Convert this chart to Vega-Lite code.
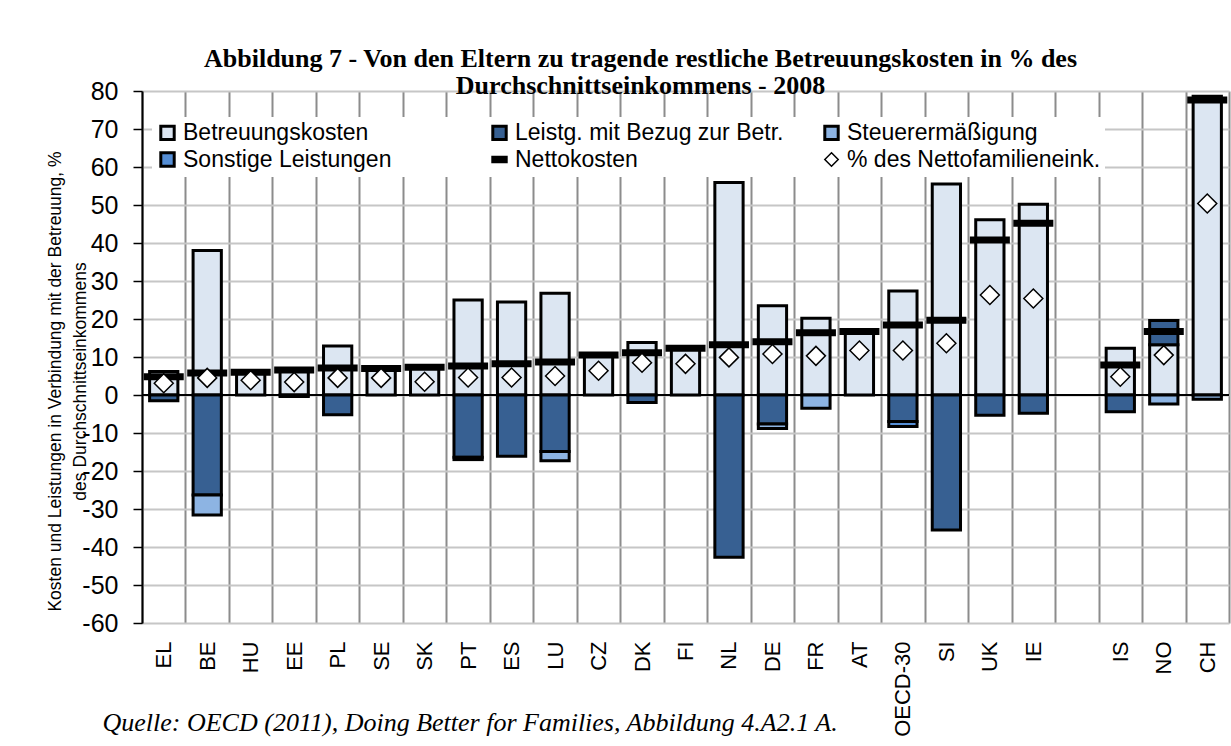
{
  "$schema": "https://vega.github.io/schema/vega-lite/v6.json",
  "width": 1087,
  "height": 532,
  "autosize": {"type": "none"},
  "padding": {"left": 142, "top": 91, "right": 2, "bottom": 123},
  "background": "white",
  "title": {
    "text": ["Abbildung 7 - Von den Eltern zu tragende restliche Betreuungskosten in % des", "Durchschnittseinkommens - 2008"],
    "font": "Liberation Serif", "fontSize": 26, "fontWeight": "bold", "color": "black",
    "anchor": "middle", "dx": -45, "offset": -20, "lineHeight": 27
  },
  "data": {"values": [
    {"country": "EL", "series": "Betreuungskosten", "value": 6.2},
    {"country": "EL", "series": "Leistg. mit Bezug zur Betr.", "value": -1.5},
    {"country": "EL", "series": "Nettokosten", "value": 4.8},
    {"country": "EL", "series": "% des Nettofamilieneink.", "value": 3.1},
    {"country": "BE", "series": "Betreuungskosten", "value": 38.0},
    {"country": "BE", "series": "Leistg. mit Bezug zur Betr.", "value": -26.3},
    {"country": "BE", "series": "Steuerermäßigung", "value": -5.3},
    {"country": "BE", "series": "Nettokosten", "value": 5.8},
    {"country": "BE", "series": "% des Nettofamilieneink.", "value": 4.5},
    {"country": "HU", "series": "Betreuungskosten", "value": 5.9},
    {"country": "HU", "series": "Nettokosten", "value": 6.0},
    {"country": "HU", "series": "% des Nettofamilieneink.", "value": 3.9},
    {"country": "EE", "series": "Betreuungskosten", "value": 6.8},
    {"country": "EE", "series": "Leistg. mit Bezug zur Betr.", "value": -0.4},
    {"country": "EE", "series": "Nettokosten", "value": 6.6},
    {"country": "EE", "series": "% des Nettofamilieneink.", "value": 3.4},
    {"country": "PL", "series": "Betreuungskosten", "value": 12.9},
    {"country": "PL", "series": "Leistg. mit Bezug zur Betr.", "value": -5.2},
    {"country": "PL", "series": "Nettokosten", "value": 7.1},
    {"country": "PL", "series": "% des Nettofamilieneink.", "value": 4.5},
    {"country": "SE", "series": "Betreuungskosten", "value": 7.0},
    {"country": "SE", "series": "Nettokosten", "value": 7.0},
    {"country": "SE", "series": "% des Nettofamilieneink.", "value": 4.5},
    {"country": "SK", "series": "Betreuungskosten", "value": 7.2},
    {"country": "SK", "series": "Nettokosten", "value": 7.3},
    {"country": "SK", "series": "% des Nettofamilieneink.", "value": 3.5},
    {"country": "PT", "series": "Betreuungskosten", "value": 25.0},
    {"country": "PT", "series": "Leistg. mit Bezug zur Betr.", "value": -16.4},
    {"country": "PT", "series": "Sonstige Leistungen", "value": -0.6},
    {"country": "PT", "series": "Nettokosten", "value": 7.6},
    {"country": "PT", "series": "% des Nettofamilieneink.", "value": 4.6},
    {"country": "ES", "series": "Betreuungskosten", "value": 24.5},
    {"country": "ES", "series": "Leistg. mit Bezug zur Betr.", "value": -16.1},
    {"country": "ES", "series": "Nettokosten", "value": 8.2},
    {"country": "ES", "series": "% des Nettofamilieneink.", "value": 4.6},
    {"country": "LU", "series": "Betreuungskosten", "value": 26.8},
    {"country": "LU", "series": "Leistg. mit Bezug zur Betr.", "value": -14.9},
    {"country": "LU", "series": "Steuerermäßigung", "value": -2.4},
    {"country": "LU", "series": "Nettokosten", "value": 8.7},
    {"country": "LU", "series": "% des Nettofamilieneink.", "value": 5.0},
    {"country": "CZ", "series": "Betreuungskosten", "value": 10.4},
    {"country": "CZ", "series": "Nettokosten", "value": 10.5},
    {"country": "CZ", "series": "% des Nettofamilieneink.", "value": 6.4},
    {"country": "DK", "series": "Betreuungskosten", "value": 13.8},
    {"country": "DK", "series": "Leistg. mit Bezug zur Betr.", "value": -2.0},
    {"country": "DK", "series": "Nettokosten", "value": 11.1},
    {"country": "DK", "series": "% des Nettofamilieneink.", "value": 8.5},
    {"country": "FI", "series": "Betreuungskosten", "value": 12.2},
    {"country": "FI", "series": "Nettokosten", "value": 12.3},
    {"country": "FI", "series": "% des Nettofamilieneink.", "value": 8.2},
    {"country": "NL", "series": "Betreuungskosten", "value": 55.9},
    {"country": "NL", "series": "Leistg. mit Bezug zur Betr.", "value": -42.7},
    {"country": "NL", "series": "Nettokosten", "value": 13.2},
    {"country": "NL", "series": "% des Nettofamilieneink.", "value": 9.9},
    {"country": "DE", "series": "Betreuungskosten", "value": 23.5},
    {"country": "DE", "series": "Leistg. mit Bezug zur Betr.", "value": -7.6},
    {"country": "DE", "series": "Steuerermäßigung", "value": -1.2},
    {"country": "DE", "series": "Nettokosten", "value": 14.0},
    {"country": "DE", "series": "% des Nettofamilieneink.", "value": 10.8},
    {"country": "FR", "series": "Betreuungskosten", "value": 20.2},
    {"country": "FR", "series": "Steuerermäßigung", "value": -3.5},
    {"country": "FR", "series": "Nettokosten", "value": 16.4},
    {"country": "FR", "series": "% des Nettofamilieneink.", "value": 10.3},
    {"country": "AT", "series": "Betreuungskosten", "value": 16.6},
    {"country": "AT", "series": "Nettokosten", "value": 16.7},
    {"country": "AT", "series": "% des Nettofamilieneink.", "value": 11.7},
    {"country": "OECD-30", "series": "Betreuungskosten", "value": 27.4},
    {"country": "OECD-30", "series": "Leistg. mit Bezug zur Betr.", "value": -7.0},
    {"country": "OECD-30", "series": "Sonstige Leistungen", "value": -1.3},
    {"country": "OECD-30", "series": "Nettokosten", "value": 18.4},
    {"country": "OECD-30", "series": "% des Nettofamilieneink.", "value": 11.7},
    {"country": "SI", "series": "Betreuungskosten", "value": 55.5},
    {"country": "SI", "series": "Leistg. mit Bezug zur Betr.", "value": -35.5},
    {"country": "SI", "series": "Nettokosten", "value": 19.7},
    {"country": "SI", "series": "% des Nettofamilieneink.", "value": 13.6},
    {"country": "UK", "series": "Betreuungskosten", "value": 46.1},
    {"country": "UK", "series": "Leistg. mit Bezug zur Betr.", "value": -5.3},
    {"country": "UK", "series": "Nettokosten", "value": 40.8},
    {"country": "UK", "series": "% des Nettofamilieneink.", "value": 26.3},
    {"country": "IE", "series": "Betreuungskosten", "value": 50.2},
    {"country": "IE", "series": "Leistg. mit Bezug zur Betr.", "value": -4.8},
    {"country": "IE", "series": "Nettokosten", "value": 45.2},
    {"country": "IE", "series": "% des Nettofamilieneink.", "value": 25.4},
    {"country": "IS", "series": "Betreuungskosten", "value": 12.3},
    {"country": "IS", "series": "Leistg. mit Bezug zur Betr.", "value": -4.4},
    {"country": "IS", "series": "Nettokosten", "value": 7.9},
    {"country": "IS", "series": "% des Nettofamilieneink.", "value": 4.8},
    {"country": "NO", "series": "Betreuungskosten", "value": 13.2},
    {"country": "NO", "series": "Leistg. mit Bezug zur Betr.", "value": 6.4},
    {"country": "NO", "series": "Steuerermäßigung", "value": -2.4},
    {"country": "NO", "series": "Nettokosten", "value": 16.7},
    {"country": "NO", "series": "% des Nettofamilieneink.", "value": 10.5},
    {"country": "CH", "series": "Betreuungskosten", "value": 78.6},
    {"country": "CH", "series": "Steuerermäßigung", "value": -1.1},
    {"country": "CH", "series": "Nettokosten", "value": 77.6},
    {"country": "CH", "series": "% des Nettofamilieneink.", "value": 50.4}
  ]},
  "encoding": {
    "x": {
      "field": "country", "type": "nominal", "sort": null,
      "scale": {"domain": ["EL","BE","HU","EE","PL","SE","SK","PT","ES","LU","CZ","DK","FI","NL","DE","FR","AT","OECD-30","SI","UK","IE"," ","IS","NO","CH"], "paddingInner": 0, "paddingOuter": 0},
      "axis": {
        "title": "Quelle: OECD (2011), Doing Better for Families, Abbildung 4.A2.1 A.",
        "titleFont": "Liberation Serif", "titleFontStyle": "italic", "titleFontWeight": "normal", "titleFontSize": 26, "titleColor": "black",
        "titleX": -40, "titleY": 107, "titleAlign": "left", "titleAnchor": "start", "titleBaseline": "alphabetic",
        "labelAngle": 270, "labelFont": "Liberation Sans", "labelFontSize": 22, "labelColor": "black", "labelPadding": 18,
        "ticks": false, "domain": false, "grid": true, "gridColor": "#8c8c8c", "gridWidth": 2, "tickBand": "extent"
      }
    }
  },
  "layer": [
    {
      "transform": [{"filter": "indexof(['Betreuungskosten','Leistg. mit Bezug zur Betr.','Steuerermäßigung','Sonstige Leistungen'], datum.series) >= 0"}],
      "mark": {"type": "bar", "width": {"band": 0.65}, "stroke": "black", "strokeWidth": 3},
      "encoding": {
        "y": {
          "field": "value", "type": "quantitative", "stack": "zero",
          "scale": {"domain": [-60, 80], "nice": false, "zero": false},
          "axis": {
            "values": [-60,-50,-40,-30,-20,-10,0,10,20,30,40,50,60,70,80],
            "title": ["Kosten und Leistungen in Verbindung mit der Betreuung, %", "des Durchschnittseinkommens"]
          }
        },
        "order": {"field": "series", "type": "nominal", "sort": "ascending"},
        "fill": {
          "field": "series", "type": "nominal",
          "scale": {
            "domain": ["Betreuungskosten", "Sonstige Leistungen", "Leistg. mit Bezug zur Betr.", "Nettokosten", "Steuerermäßigung", "% des Nettofamilieneink."],
            "range": ["#DCE6F2", "#558ED5", "#376092", "black", "#8DB4E3", "white"]
          },
          "legend": {
            "orient": "none", "legendX": 10, "legendY": 26, "columns": 3, "title": null,
            "fillColor": "white", "padding": 4, "gridAlign": "all", "columnPadding": 34, "rowPadding": 0,
            "labelFont": "Liberation Sans", "labelFontSize": 23, "labelColor": "black", "labelLimit": 400, "labelOffset": 4,
            "symbolSize": 180, "symbolStrokeColor": "black", "symbolStrokeWidth": 3, "symbolOpacity": 1,
            "encode": {
              "symbols": {
                "update": {
                  "shape": {"signal": "datum.value === 'Nettokosten' ? 'M-1,-0.35H1V0.35H-1Z' : (datum.value === '% des Nettofamilieneink.' ? 'diamond' : 'square')"},
                  "stroke": {"value": "black"},
                  "strokeWidth": {"signal": "datum.value === '% des Nettofamilieneink.' ? 1.5 : 3"}
                }
              }
            }
          }
        }
      }
    },
    {
      "mark": {"type": "rule", "color": "black", "strokeWidth": 1.5},
      "encoding": {"y": {"datum": 0, "axis": {"values": [-60,-50,-40,-30,-20,-10,0,10,20,30,40,50,60,70,80]}}, "x": null}
    },
    {
      "transform": [{"filter": "datum.series === 'Nettokosten'"}],
      "mark": {"type": "tick", "size": 40, "thickness": 7, "opacity": 1},
      "encoding": {
        "y": {"field": "value", "type": "quantitative", "axis": {"values": [-60,-50,-40,-30,-20,-10,0,10,20,30,40,50,60,70,80]}},
        "fill": {"field": "series", "type": "nominal"}
      }
    },
    {
      "transform": [{"filter": "datum.series === '% des Nettofamilieneink.'"}],
      "mark": {"type": "point", "shape": "diamond", "filled": true, "size": 360, "stroke": "black", "strokeWidth": 1.5, "opacity": 1},
      "encoding": {
        "y": {"field": "value", "type": "quantitative", "axis": {"values": [-60,-50,-40,-30,-20,-10,0,10,20,30,40,50,60,70,80]}},
        "fill": {"field": "series", "type": "nominal"}
      }
    }
  ],
  "config": {
    "view": {"stroke": null},
    "font": "Liberation Sans",
    "axisY": {
      "labelExpr": "'' + datum.value", "labelOverlap": false,
      "titleFont": "Liberation Sans", "titleFontSize": 17.5, "titleFontWeight": "normal", "titleColor": "black",
      "titleX": -87, "titleY": 290, "titleAngle": 270, "titleAlign": "center", "titleBaseline": "middle", "titleLineHeight": 25,
      "labelFont": "Liberation Sans", "labelFontSize": 25, "labelColor": "black", "labelPadding": 15,
      "tickSize": 9, "tickColor": "black", "tickWidth": 1.5,
      "domainColor": "black", "domainWidth": 2,
      "grid": true, "gridColor": "#c6c6c6", "gridWidth": 2
    }
  }
}
